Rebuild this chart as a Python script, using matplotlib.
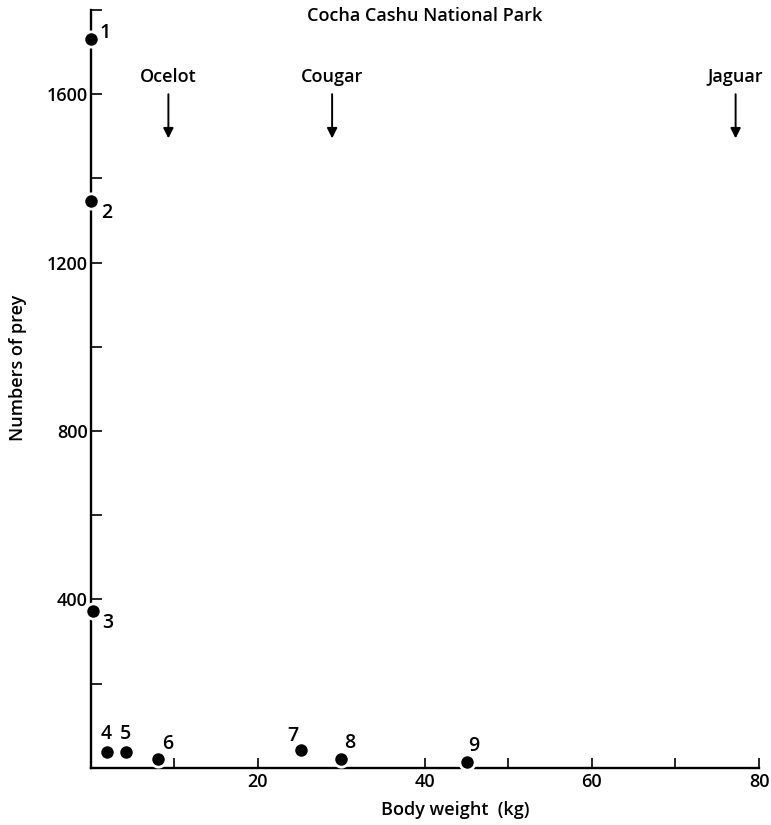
import matplotlib
matplotlib.use("Agg")
import matplotlib.pyplot as plt

# Data
prey_ids = ["1", "2", "3", "4", "5", "6", "7", "8", "9"]
body_weight = [0.05, 0.05, 0.3, 1.9, 4.2, 8.1, 25.2, 30.0, 45.1]
num_prey = [1730, 1347, 372, 37, 37, 21, 42, 21, 13]
label_offsets = [(14, 6), (16, -12), (15, -12), (0, 18), (0, 18), (9, 15), (-8, 14), (8, 16), (6, 16)]

predators = ["Ocelot", "Cougar", "Jaguar"]
predator_weight = [9.3, 28.9, 77.2]

title = "Cocha Cashu National Park"
xlabel = "Body weight  (kg)"
ylabel = "Numbers of prey"
xticks = [0, 10, 20, 30, 40, 50, 60, 70, 80]
xticklabels = ["", "", "20", "", "40", "", "60", "", "80"]
yticks = [0, 200, 400, 600, 800, 1000, 1200, 1400, 1600, 1800]
yticklabels = ["", "", "400", "", "800", "", "1200", "", "1600", ""]

plt.rcParams['font.family'] = ['Open Sans', 'DejaVu Sans']
plt.rcParams['font.weight'] = 'semibold'

fig = plt.figure(figsize=(7.71, 8.25), dpi=100)
ax = fig.add_axes([90.7 / 771, 1 - 767.7 / 825, (759 - 90.7) / 771, (767.7 - 10) / 825])
ax.set_xlim(0, 80)
ax.set_ylim(0, 1800)

for s in ["top", "right"]:
    ax.spines[s].set_visible(False)
for s in ["left", "bottom"]:
    ax.spines[s].set_linewidth(1.7)
    ax.spines[s].set_color("black")

ax.set_xticks(xticks)
ax.set_xticklabels(xticklabels)
ax.set_yticks(yticks)
ax.set_yticklabels(yticklabels)
ax.tick_params(axis="x", direction="in", length=7, width=1.2, labelsize=13, pad=4)
ax.tick_params(axis="y", direction="in", length=8, width=1.2, labelsize=13, pad=2)

ax.plot(body_weight, num_prey, "o", color="black", markersize=11,
        markeredgecolor="white", markeredgewidth=2.0, clip_on=False, zorder=5)

for lab, x, y, off in zip(prey_ids, body_weight, num_prey, label_offsets):
    ax.annotate(lab, (x, y), xytext=off, textcoords="offset pixels",
                ha="center", va="center", fontsize=14, annotation_clip=False)

for name, w in zip(predators, predator_weight):
    ax.annotate("", xy=(w, 1495), xytext=(w, 1600),
                arrowprops=dict(arrowstyle="-|>,head_length=0.6,head_width=0.3",
                                color="black", lw=1.4, shrinkA=0, shrinkB=0))
    ax.text(w, 1640, name, ha="center", va="center", fontsize=13)

fig.text(425 / 771, 1 - 16 / 825, title, ha="center", va="center", fontsize=13)
fig.text(455 / 771, 1 - 810 / 825, xlabel, ha="center", va="center", fontsize=13)
fig.text(18 / 771, 1 - 368 / 825, ylabel, ha="center", va="center", rotation=90, fontsize=13)

fig.savefig("out.png", dpi=100)
